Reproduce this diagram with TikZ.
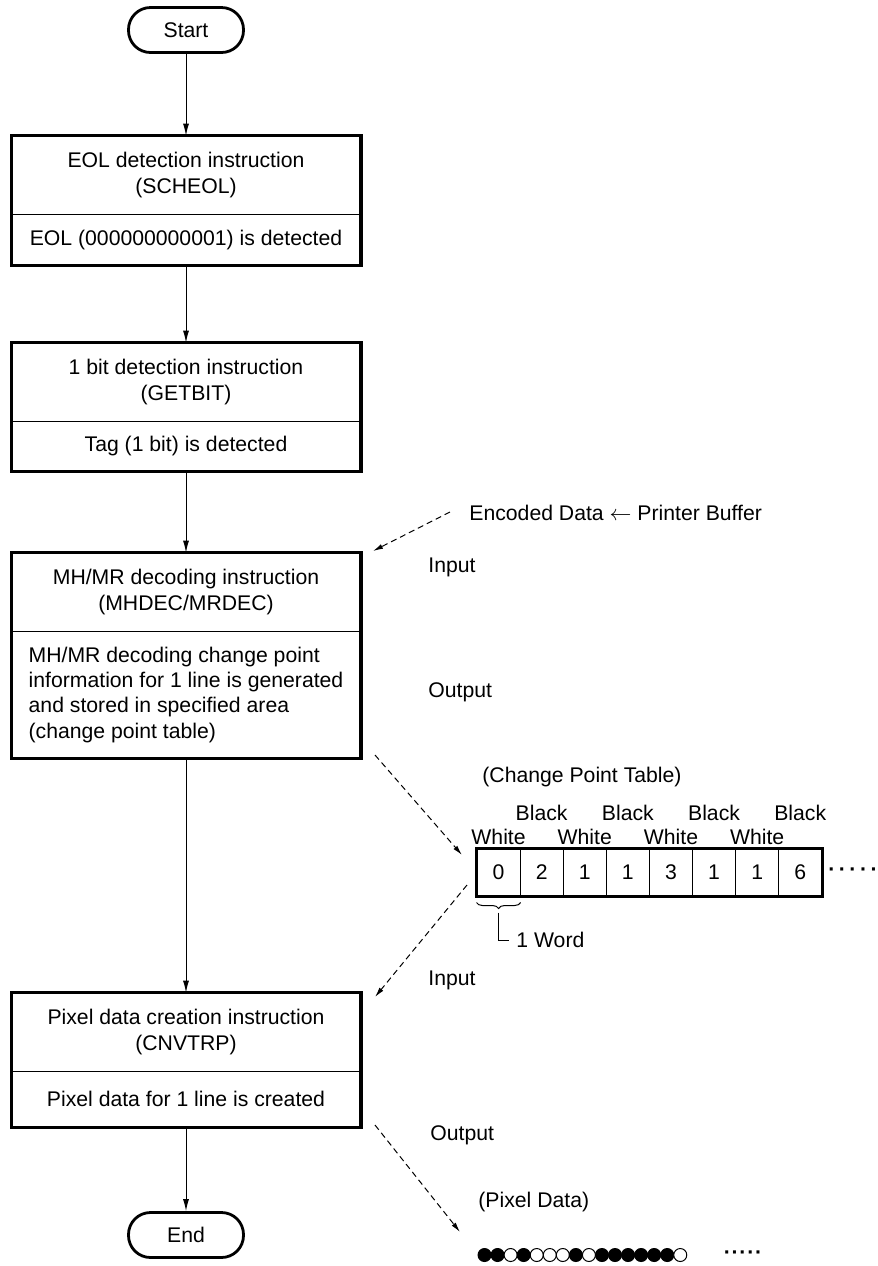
\documentclass[tikz,border=0pt]{standalone}
\usepackage{fontspec}
\setmainfont{Liberation Sans}
\usetikzlibrary{arrows.meta,positioning,decorations.pathreplacing}

\newcommand{\dotrow}[1]{\textbf{·\kern#1·\kern#1·\kern#1·\kern#1·}}

\tikzset{
    every node/.style={font=\fontsize{10.6}{13}\selectfont},
    term/.style={draw, line width=1.4pt, rounded corners=11pt, minimum width=57.5pt, minimum height=22.5pt, inner sep=0pt},
    head/.style={minimum width=174.5pt, minimum height=39pt, align=center, inner sep=0pt},
    body/.style={minimum width=174.5pt, align=center, inner sep=0pt},
    frame/.style={line width=1.6pt},
    divider/.style={line width=0.5pt},
    flow/.style={line width=0.5pt, -{Latex[length=6pt,width=3pt]}},
    feed/.style={line width=0.5pt, dash pattern=on 3pt off 2pt, -{Latex[length=5pt,width=2.5pt]}},
    side/.style={anchor=west, inner sep=0pt},
    cell/.style={draw, line width=0.5pt, minimum width=21.55pt, minimum height=23.5pt, inner sep=0pt},
    pix/.style={circle, draw, line width=0.5pt, minimum size=6.5pt, inner sep=0pt},
}

\begin{document}
\begin{tikzpicture}[x=0.5pt, y=-0.5pt]
        \useasboundingbox (0,0) rectangle (878,1266);

        % Start and End
        \node[term] (start) at (186,30) {Start};
        \node[term] (stop) at (186,1235) {End};

        % EOL detection
        \node[head] (eolhead) at (186,175) {EOL detection instruction\\(SCHEOL)};
        \node[body, minimum height=25pt, below=0pt of eolhead] (eolbody) {EOL (000000000001) is detected};
        \draw[frame] (eolhead.north west) rectangle (eolbody.south east);
        \draw[divider] (eolhead.south west) -- (eolhead.south east);

        % 1 bit detection
        \node[head] (bithead) at (186,382) {1 bit detection instruction\\(GETBIT)};
        \node[body, minimum height=24.5pt, below=0pt of bithead] (bitbody) {Tag (1 bit) is detected};
        \draw[frame] (bithead.north west) rectangle (bitbody.south east);
        \draw[divider] (bithead.south west) -- (bithead.south east);

        % MH/MR decoding
        \node[head] (mrhead) at (186,592) {MH/MR decoding instruction\\(MHDEC/MRDEC)};
        \node[body, minimum height=63pt, below=0pt of mrhead, align=left, font=\fontsize{10.6}{12.6}\selectfont] (mrbody)
            {MH/MR decoding change point\\information for 1 line is generated\\and stored in specified area\\(change point table)};
        \draw[frame] (mrhead.north west) rectangle (mrbody.south east);
        \draw[divider] (mrhead.south west) -- (mrhead.south east);

        % pixel data creation
        \node[head] (cnvhead) at (186,1032) {Pixel data creation instruction\\(CNVTRP)};
        \node[body, minimum height=27.5pt, below=0pt of cnvhead] (cnvbody) {Pixel data for 1 line is created};
        \draw[frame] (cnvhead.north west) rectangle (cnvbody.south east);
        \draw[divider] (cnvhead.south west) -- (cnvhead.south east);

        % main flow
        \draw[flow] (start) -- (eolhead);
        \draw[flow] (eolbody) -- (bithead);
        \draw[flow] (bitbody) -- (mrhead);
        \draw[flow] (mrbody) -- (cnvhead);
        \draw[flow] (cnvbody) -- (stop);

        % labels on the right
        \node[side] (enc) at (469,513) {Encoded Data $\leftarrow$ Printer Buffer};
        \node[side] (in1) at (428,567) {Input};
        \node[side] (out1) at (428,692) {Output};
        \node[side] (cpt) at (482,777) {(Change Point Table)};
        \node[side] (in2) at (428,980) {Input};
        \node[side] (out2) at (430,1135) {Output};
        \node[side] (pxd) at (478,1202) {(Pixel Data)};

        % change point table
        \foreach \v [count=\i] in {0,2,1,1,3,1,1,6}
            \node[cell] (c\i) at ({477+43.1*(\i-0.5)},872.5) {\v};
        \draw[line width=1.4pt] (c1.north west) rectangle (c8.south east);
        \foreach \i in {1,3,5,7}
            \node (w\i) at ([yshift=17.75pt]c\i.center) {White};
        \foreach \i in {2,4,6,8}
            \node (b\i) at ([yshift=29.75pt]c\i.center) {Black};
        \node (tabmore) at (853,872) {\dotrow{1.75pt}};

        % 1 word
        \draw[line width=0.5pt, decorate, decoration={brace, mirror, amplitude=3pt}]
            ([yshift=-3pt]c1.south west) -- ([yshift=-3pt]c1.south east);
        \coordinate (wordtip) at ([yshift=-8pt]c1.south);
        \node[side] (word) at (516,940) {1 Word};
        \draw[line width=0.5pt] (wordtip) |- ([xshift=-3.5pt]word.west);

        % pixel data
        \foreach \f [count=\i] in {black,black,white,black,white,white,white,black,white,black,black,black,black,black,black,white}
            \node[pix, fill=\f] (p\i) at ({478+13.05*(\i-0.5)},1255) {};
        \node (pixmore) at (743,1255) {\dotrow{0.4pt}};

        % data flow
        \coordinate (encsrc) at (450,512);
        \coordinate (mrin) at (373,551);
        \coordinate (mrout) at (375,755);
        \coordinate (tabin) at (462,855);
        \coordinate (tabout) at (467,885);
        \coordinate (cnvin) at (375,997);
        \coordinate (cnvout) at (375,1125);
        \coordinate (pixin) at (460,1232);
        \draw[feed] (encsrc) -- (mrin);
        \draw[feed] (mrout) -- (tabin);
        \draw[feed] (tabout) -- (cnvin);
        \draw[feed] (cnvout) -- (pixin);
\end{tikzpicture}
\end{document}
